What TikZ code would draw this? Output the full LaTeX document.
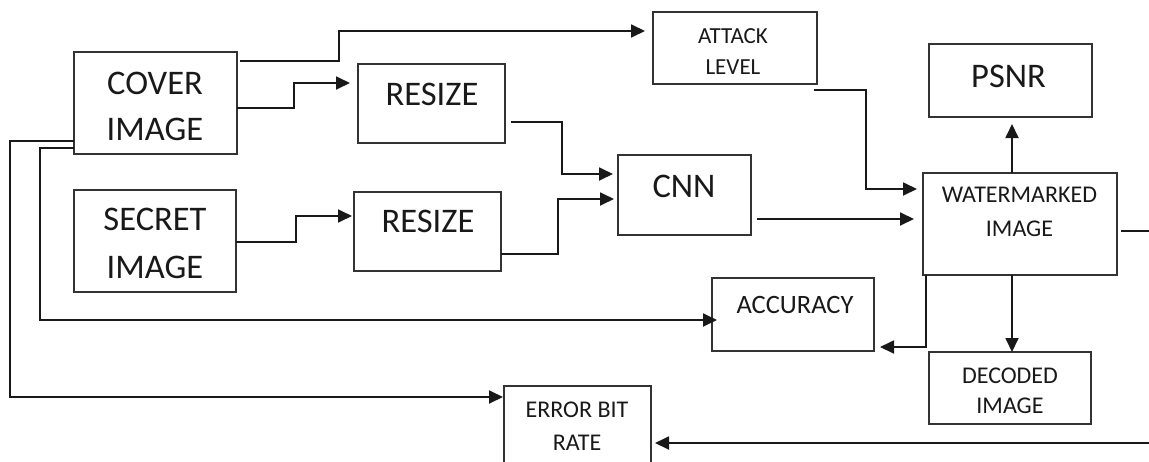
\documentclass[tikz,border=0pt]{standalone}
\usepackage{fontspec}
\setmainfont{Carlito}
\usetikzlibrary{arrows.meta}

\tikzset{
  blockbox/.style={draw=black!80, line width=1.3pt, inner sep=0pt, outer sep=0pt},
  conn/.style={draw=black!90, line width=1.8pt, -{Triangle[length=14pt,width=13pt]}},
  big/.style={anchor=base, inner sep=0pt, text=black!90, font=\fontsize{34.5}{40}\selectfont},
  small/.style={anchor=base, inner sep=0pt, text=black!90, font=\fontsize{24}{28}\selectfont},
}

\begin{document}
\begin{tikzpicture}[x=1pt, y=-1pt]
  \useasboundingbox (0,0) rectangle (1149,461);
  \clip (0,0) rectangle (1149,461);

  % blocks
  \node[blockbox, minimum width=163pt, minimum height=102pt] (cover)  at (155.5,103) {};
  \node[blockbox, minimum width=162pt, minimum height=102pt] (secret) at (155,241) {};
  \node[blockbox, minimum width=147pt, minimum height=79pt]  (resizeA) at (431.5,103.5) {};
  \node[blockbox, minimum width=147pt, minimum height=79pt]  (resizeB) at (427.5,231.5) {};
  \node[blockbox, minimum width=133pt, minimum height=80pt]  (cnn)    at (684.5,195) {};
  \node[blockbox, minimum width=164pt, minimum height=72pt]  (attack) at (735,48) {};
  \node[blockbox, minimum width=163pt, minimum height=73pt]  (psnr)   at (1010.5,80.5) {};
  \node[blockbox, minimum width=194pt, minimum height=102pt] (wm)     at (1020,224) {};
  \node[blockbox, minimum width=162pt, minimum height=73pt]  (acc)    at (793,314.5) {};
  \node[blockbox, minimum width=162pt, minimum height=72pt]  (dec)    at (1010,388) {};
  \node[blockbox, minimum width=147pt, minimum height=84pt]  (err)    at (577.5,428) {};

  % labels
  \node[big] (coverA) at (155,94) {COVER};
  \node[big] (coverB) at (155,140) {IMAGE};
  \node[big] (secretA) at (155,230) {SECRET};
  \node[big] (secretB) at (155,278) {IMAGE};
  \node[big] (resizeAt) at (432,105) {RESIZE};
  \node[big] (resizeBt) at (428,232) {RESIZE};
  \node[big] (cnnt) at (684,197) {CNN};
  \node[big] (psnrt) at (1008.5,87) {PSNR};
  \node[small, font=\fontsize{23}{26}\selectfont] (attackA) at (733,43) {ATTACK};
  \node[small, font=\fontsize{23}{26}\selectfont] (attackB) at (733,74) {LEVEL};
  \node[small] (wmA) at (1019.5,202) {WATERMARKED};
  \node[small] (wmB) at (1019.5,236) {IMAGE};
  \node[small, font=\fontsize{26.5}{30}\selectfont] (acct) at (795,313) {ACCURACY};
  \node[small] (decA) at (1010,383) {DECODED};
  \node[small] (decB) at (1010,413) {IMAGE};
  \node[small] (errA) at (577,417) {ERROR BIT};
  \node[small] (errB) at (577,450) {RATE};

  % connectors
  \draw[conn] ([xshift=3pt]cover.east |- 0,61) -- (339,61) |- ([xshift=-8pt]attack.west |- 0,31);
  \draw[conn] (cover.east |- 0,108) -- (294,108) |- ([xshift=-8pt]resizeA.west |- 0,83);
  \draw[conn] (secret.east |- 0,242) -- (296,242) |- ([xshift=-2pt]resizeB.west |- 0,216);
  \draw[conn] ([xshift=6pt]resizeA.east |- 0,122) -- (562,122) |- ([xshift=-5pt]cnn.west |- 0,174);
  \draw[conn] (resizeB.east |- 0,254) -- (558,254) |- ([xshift=-4pt]cnn.west |- 0,199);
  \draw[conn] ([xshift=6pt]cnn.east |- 0,219) -- ([xshift=-9pt]wm.west |- 0,219);
  \draw[conn] ([xshift=-3pt]attack.east |- 0,90) -- (866,90) |- ([xshift=-6pt]wm.west |- 0,189);
  \draw[conn] (wm.north -| 1012,0) -- ([yshift=-7pt]psnr.south -| 1012,0);
  \draw[conn] (wm.south -| 1012,0) -- (dec.north -| 1012,0);
  \draw[conn] (wm.south -| 926,0) |- ([xshift=6pt]acc.east |- 0,347);
  \draw[conn] ([xshift=4pt]wm.east |- 0,231) -- (1165,231) |- ([xshift=4pt]err.east |- 0,443);
  \draw[conn] (cover.west |- 0,148) -- (40,148) |- ([xshift=5pt]acc.west |- 0,320);
  \draw[conn] (cover.west |- 0,141) -- (10,141) |- ([xshift=-1pt]err.west |- 0,397);
\end{tikzpicture}
\end{document}
